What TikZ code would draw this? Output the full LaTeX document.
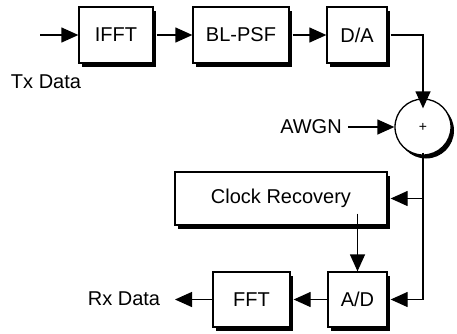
\documentclass[tikz,border=0pt]{standalone}
\usepackage{fontspec}
\setmainfont{Liberation Sans}
\usetikzlibrary{arrows.meta,shadows}
\begin{document}
\begin{tikzpicture}[x=1pt,y=-1pt,
  font=\fontsize{20}{23}\selectfont,
  blk/.style={draw,line width=1.3pt,fill=white,inner sep=0pt,
    drop shadow={shadow xshift=3pt,shadow yshift=-3.5pt,fill=black,opacity=1}},
  lbl/.style={inner sep=0pt},
  conn/.style={line width=1.3pt,-{Triangle[length=17pt,width=15pt]}},
  plain/.style={line width=1.3pt}]
\useasboundingbox (0,0) rectangle (457,333);
\node[blk,minimum width=74pt,minimum height=56pt] (ifft) at (116,35) {IFFT};
\node[blk,minimum width=96pt,minimum height=56pt] (psf) at (241,35) {BL-PSF};
\node[blk,minimum width=60pt,minimum height=56pt] (da) at (357,35) {D/A};
\node[blk,circle,minimum size=56pt] (sum) at (423,127) {\fontsize{14}{16}\selectfont +};
\node[blk,minimum width=212pt,minimum height=53pt] (cr) at (281,198.5) {Clock Recovery};
\node[blk,minimum width=77pt,minimum height=55pt] (fft) at (251.5,299.5) {FFT};
\node[blk,minimum width=59pt,minimum height=55pt] (ad) at (357.5,299.5) {A/D};
\node[lbl] (tx) at (46,82) {Tx Data};
\node[lbl] (awgn) at (311,127) {AWGN};
\node[lbl] (rx) at (124,299) {Rx Data};
\coordinate (txin) at (40,35);
\coordinate (rxout) at (175,299.5);
\coordinate (br) at (sum.south |- cr.east);
\coordinate (bot) at (sum.south |- ad.east);
\draw[conn] (txin) -- (ifft.west);
\draw[conn] ([xshift=3pt]ifft.east) -- (psf.west);
\draw[conn] ([xshift=3pt]psf.east) -- (da.west);
\draw[conn] ([xshift=3pt]da.east) -| ([yshift=-10pt]sum.north);
\draw[conn] ([xshift=6pt]awgn.east) -- (awgn.east -| sum.west);
\draw[plain] ([yshift=3pt]sum.south) -- (bot);
\draw[conn] (br) -- ([xshift=3pt]cr.east);
\draw[conn] (bot) -- ([xshift=3pt]ad.east);
\draw[conn] ([yshift=12pt]ad.north |- cr.south) -- (ad.north);
\draw[conn] (ad.west) -- ([xshift=3pt]fft.east);
\draw[conn] (fft.west) -- (rxout);
\end{tikzpicture}
\end{document}
